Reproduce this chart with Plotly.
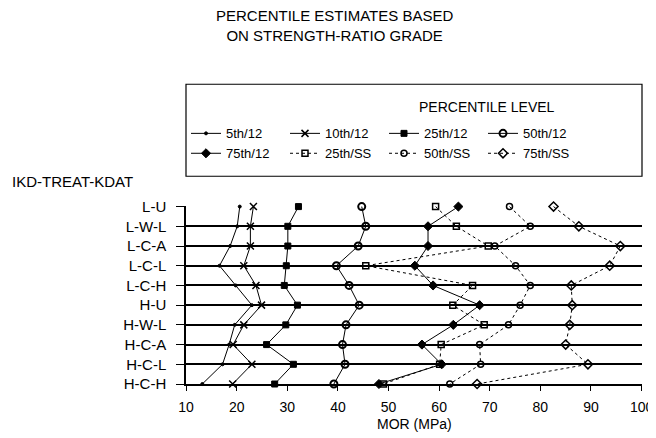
import plotly.graph_objects as go

categories = ["L-U", "L-W-L", "L-C-A", "L-C-L", "L-C-H",
              "H-U", "H-W-L", "H-C-A", "H-C-L", "H-C-H"]

p5_12 = [20.6, 20.1, 18.7, 16.6, 19.8, 23.0, 19.6, 18.5, 17.2, 13.2]
p10_12 = [23.3, 22.7, 22.7, 21.4, 23.8, 24.9, 21.4, 19.3, 23.0, 19.2]
p25_12 = [32.2, 30.1, 30.1, 29.8, 29.4, 32.0, 29.7, 25.9, 31.2, 27.5]
p50_12 = [44.7, 45.5, 44.0, 39.7, 42.2, 44.2, 41.6, 40.9, 41.4, 39.2]
p75_12 = [63.8, 57.8, 57.8, 55.2, 58.8, 68.0, 62.8, 56.6, 60.5, 48.1]
p25_ss = [59.3, 63.4, 69.7, 45.5, 66.6, 62.7, 68.9, 60.4, 60.1, 49.0]
p50_ss = [73.9, 78.0, 71.0, 75.1, 78.0, 76.0, 73.7, 68.0, 68.2, 62.1]
p75_ss = [82.6, 87.6, 95.8, 93.7, 86.1, 86.3, 85.8, 85.0, 89.4, 67.5]

x_ticks = [10, 20, 30, 40, 50, 60, 70, 80, 90, 100]

FONT = "Liberation Sans, Arial, sans-serif"

series = [
    ("5th/12", p5_12, "solid", "circle", 3, 1),
    ("10th/12", p10_12, "solid", "x-thin-open", 7, 1.5),
    ("25th/12", p25_12, "solid", "square", 6, 1),
    ("50th/12", p50_12, "solid", "circle-open", 7, 2),
    ("75th/12", p75_12, "solid", "diamond", 7, 1),
    ("25th/SS", p25_ss, "dot", "square-open", 6, 1.5),
    ("50th/SS", p50_ss, "dot", "circle-open", 6, 1.5),
    ("75th/SS", p75_ss, "dot", "diamond-open", 7, 1.5),
]

fig = go.Figure()
for name, vals, dash, sym, size, mw in series:
    fig.add_trace(go.Scatter(
        x=vals, y=categories, name=name, mode="lines+markers",
        line=dict(color="black", width=1, dash=dash),
        marker=dict(symbol=sym, size=size, color="black",
                    line=dict(color="black", width=mw)),
        cliponaxis=False,
    ))

# page has an 8px body margin, so the figure is 648x430 and sits at (8, 8)
fig.update_layout(
    width=648, height=430,
    margin=dict(l=178, r=14, t=198, b=54, autoexpand=False),
    paper_bgcolor="white", plot_bgcolor="white",
    font=dict(family=FONT, size=14, color="black"),
    showlegend=True,
    legend=dict(
        orientation="h", x=0, xanchor="left", y=1.492, yanchor="top",
        entrywidth=54, font=dict(size=13, family=FONT),
        bgcolor="rgba(0,0,0,0)", borderwidth=0, traceorder="normal",
    ),
    xaxis=dict(
        range=[9.98, 100.08], tickvals=x_ticks,
        ticktext=[str(v) for v in x_ticks],
        showgrid=False, zeroline=False, showline=True, linecolor="black",
        linewidth=1.5, ticks="outside", ticklen=5, tickwidth=1.2,
        tickcolor="black", tickfont=dict(size=14), ticklabelstandoff=4,
        ticklabeloverflow="allow",
    ),
    yaxis=dict(
        type="category", categoryorder="array", categoryarray=categories,
        range=[9, -0.03], showgrid=True, gridcolor="black", gridwidth=1.5,
        zeroline=False, showline=True, linecolor="black", linewidth=1.5,
        ticks="outside", ticklen=8, tickwidth=1.2, tickcolor="black",
        tickfont=dict(size=15), ticklabelstandoff=7,
    ),
    shapes=[dict(type="rect", xref="paper", yref="paper",
                 x0=0, x1=1.0, y0=1.167, y1=1.684,
                 line=dict(color="black", width=1.2))],
    annotations=[
        dict(text="PERCENTILE ESTIMATES BASED<br>ON STRENGTH-RATIO GRADE",
             xref="paper", yref="paper", x=0.325, y=2.13,
             xanchor="center", yanchor="top", showarrow=False,
             font=dict(size=15)),
        dict(text="PERCENTILE LEVEL", xref="paper", yref="paper",
             x=0.66, y=1.556, xanchor="center", yanchor="middle",
             showarrow=False, font=dict(size=14)),
        dict(text="IKD-TREAT-KDAT", xref="paper", yref="paper",
             x=-0.386, y=1.14, xanchor="left", yanchor="middle",
             showarrow=False, font=dict(size=15)),
        dict(text="MOR (MPa)", xref="paper", yref="paper",
             x=0.5, y=-0.225, xanchor="center", yanchor="middle",
             showarrow=False, font=dict(size=14)),
    ],
)

fig.write_html("out.html")
